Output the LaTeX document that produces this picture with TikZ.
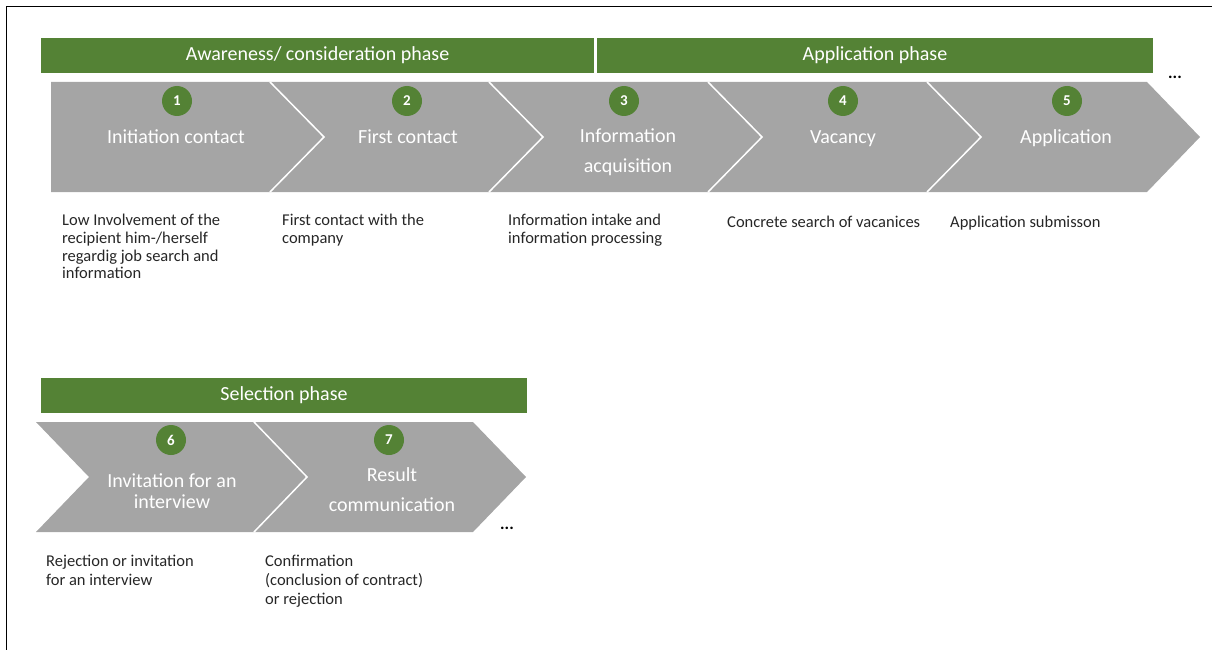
\documentclass[tikz,border=0pt]{standalone}
\usepackage{fontspec}
\setmainfont{Carlito}
\definecolor{phasegreen}{HTML}{548235}
\definecolor{stepgray}{HTML}{A5A5A5}
\definecolor{desctext}{HTML}{262626}
\begin{document}
\begin{tikzpicture}[x=1pt,y=-1pt,
  phase/.style={fill=phasegreen,text=white,minimum height=35pt,inner sep=0pt,font=\fontsize{20}{23}\selectfont},
  num/.style={circle,fill=phasegreen,text=white,minimum size=30pt,inner sep=0pt,font=\fontsize{15}{16}\selectfont\bfseries},
  lab/.style={text=white,align=center,font=\fontsize{20}{30}\selectfont},
  desc/.style={anchor=north west,inner sep=0pt,align=left,text=desctext,font=\fontsize{16.5}{17.7}\selectfont},
  more/.style={anchor=base,inner sep=0pt,font=\fontsize{17}{17}\selectfont\bfseries},
  sep/.style={draw=white,line width=1.5pt}]
\useasboundingbox (0,0) rectangle (1212,650);
\draw[line width=1.5pt] (6.5,650) -- (6.5,6.5) -- (1212,6.5);
\node[phase,minimum width=553pt] (aware) at (317.5,55.5) {Awareness/ consideration phase};
\node[phase,minimum width=556pt] (apply) at (875,55.5) {Application phase};
\fill[stepgray] (51,82) -- (1147,82) -- (1200,137) -- (1147,192) -- (51,192) -- cycle;
\foreach \b in {270,489,708,927}
  \draw[sep] (\b,82) -- ({\b+54},137) -- (\b,192);
\foreach \i/\x in {1/177,2/407,3/624,4/843,5/1067}
  \node[num] (num\i) at (\x,101) {\i};
\node[lab,anchor=base] (lab1) at (176,143) {Initiation contact};
\node[lab,anchor=base] (lab2) at (408,143) {First contact};
\node[lab] (lab3) at (628,152) {Information\\acquisition};
\node[lab,anchor=base] (lab4) at (843,143) {Vacancy};
\node[lab,anchor=base] (lab5) at (1066,143) {Application};
\node[more] (more1) at (1175,79) {...};
\node[desc] (desc1) at (62,214) {Low Involvement of the\\recipient him-/herself\\regardig job search and\\information};
\node[desc] (desc2) at (282,214) {First contact with the\\company};
\node[desc] (desc3) at (508,214) {Information intake and\\information processing};
\node[desc] (desc4) at (727,216) {Concrete search of vacanices};
\node[desc] (desc5) at (950,216) {Application submisson};
\node[phase,minimum width=486pt] (select) at (284,395.5) {Selection phase};
\fill[stepgray] (36,422) -- (473,422) -- (526,477) -- (473,532) -- (36,532) -- (89,477) -- cycle;
\draw[sep] (254,422) -- (307,477) -- (254,532);
\node[num] (num6) at (171,440) {6};
\node[num] (num7) at (389,440) {7};
\node[lab,font=\fontsize{20}{21}\selectfont] (lab6) at (172,491) {Invitation for an\\interview};
\node[lab] (lab7) at (392,490) {Result\\communication};
\node[more] (more2) at (507,529) {...};
\node[desc,font=\fontsize{16.5}{19}\selectfont] (desc6) at (46,555) {Rejection or invitation\\for an interview};
\node[desc,font=\fontsize{16.5}{19}\selectfont] (desc7) at (265,555) {Confirmation\\(conclusion of contract)\\or rejection};
\end{tikzpicture}
\end{document}
